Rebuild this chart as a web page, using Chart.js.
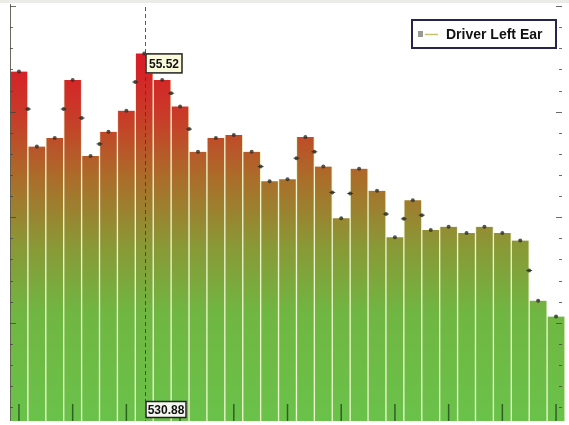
<!DOCTYPE html>
<html>
<head>
<meta charset="utf-8">
<script src="https://cdn.jsdelivr.net/npm/chart.js@4/dist/chart.umd.min.js"></script>
<style>
    html, body { margin: 0; padding: 0; background: #ffffff; }
    #wrap { width: 569px; height: 425px; }
</style>
</head>
<body>
<div id="wrap"><canvas id="earChart" width="569" height="425"></canvas></div>
<script>
// frequency bins (Hz) and level per bin
const categories = [
    "66.36", "132.72", "199.08", "265.44", "331.80", "398.16", "464.52", "530.88",
    "597.24", "663.60", "729.96", "796.32", "862.68", "929.04", "995.40", "1061.76",
    "1128.12", "1194.48", "1260.84", "1327.20", "1393.56", "1459.92", "1526.28", "1592.64",
    "1659.00", "1725.36", "1791.72", "1858.08", "1924.44", "1990.80", "2057.16"
];
const levels = [
    53.8, 46.7, 47.5, 53.0, 45.8, 48.1, 50.1, 55.52,
    53.0, 50.5, 46.2, 47.5, 47.8, 46.2, 43.4, 43.6,
    47.6, 44.8, 39.9, 44.6, 42.5, 38.1, 41.6, 38.8,
    39.1, 38.5, 39.1, 38.5, 37.8, 32.1, 30.6
];
const seriesName = "Driver Left Ear";
const cursorBin = "530.88";
const yRange = [20.7, 60.2];

let barGradient = null;
function getGradient(chart) {
    const area = chart.chartArea;
    if (!area) return "#c03030";
    if (!barGradient) {
        const g = chart.ctx.createLinearGradient(0, area.top, 0, area.bottom);
        g.addColorStop(0.0, "rgb(224,18,42)");
        g.addColorStop(0.16, "rgb(214,34,40)");
        g.addColorStop(0.27, "rgb(200,60,40)");
        g.addColorStop(0.42, "rgb(170,110,42)");
        g.addColorStop(0.58, "rgb(138,152,54)");
        g.addColorStop(0.74, "rgb(112,182,66)");
        g.addColorStop(1.0, "rgb(106,194,74)");
        barGradient = g;
    }
    return barGradient;
}

function drawMarker(ctx, x, y) {
    ctx.save();
    ctx.fillStyle = "rgba(45,45,35,0.8)";
    ctx.beginPath();
    ctx.arc(x, y, 2, 0, Math.PI * 2);
    ctx.fill();
    ctx.fillRect(x - 3, y - 0.5, 6, 1);
    ctx.restore();
}

function labelBox(ctx, text, x, y, w, h, fill) {
    ctx.save();
    ctx.fillStyle = fill;
    ctx.fillRect(x, y, w, h);
    ctx.strokeStyle = "#222";
    ctx.lineWidth = 1.5;
    ctx.strokeRect(x + 0.5, y + 0.5, w - 1, h - 1);
    ctx.fillStyle = "#111";
    ctx.font = "bold 12px 'Liberation Sans Narrow', 'Liberation Sans', sans-serif";
    ctx.textAlign = "center";
    ctx.textBaseline = "middle";
    ctx.fillText(text, x + w / 2, y + h / 2 + 1);
    ctx.restore();
}

const overlay = {
    id: "overlay",
    afterDatasetsDraw(chart) {
        const ctx = chart.ctx;
        const area = chart.chartArea;
        const yScale = chart.scales.y;
        const bars = chart.getDatasetMeta(0).data;

        // markers halfway up the steps between neighbouring bars
        for (let i = 0; i < levels.length - 1; i++) {
            if (Math.abs(levels[i] - levels[i + 1]) < 2.2) continue;
            const x = (bars[i].x + bars[i + 1].x) / 2;
            const y = (yScale.getPixelForValue(levels[i]) + yScale.getPixelForValue(levels[i + 1])) / 2;
            drawMarker(ctx, x, y);
        }

        // axis ticks on both sides, pointing inward
        ctx.save();
        ctx.strokeStyle = "rgba(70,70,60,0.8)";
        ctx.lineWidth = 1;
        ctx.beginPath();
        ctx.moveTo(area.left + 0.5, area.top);
        ctx.lineTo(area.left + 0.5, area.bottom);
        for (let v = 22; v <= 60; v += 2) {
            const y = Math.round(yScale.getPixelForValue(v)) + 0.5;
            const len = v % 10 === 0 ? 6 : 3;
            ctx.moveTo(area.left, y);
            ctx.lineTo(area.left + len, y);
            ctx.moveTo(area.right - 3, y);
            ctx.lineTo(area.right - 3 - len, y);
        }
        ctx.stroke();

        // bottom ticks every third bin
        ctx.strokeStyle = "rgba(40,85,30,0.9)";
        ctx.lineWidth = 1.5;
        ctx.beginPath();
        bars.forEach((bar, i) => {
            if (i % 3 !== 0) return;
            ctx.moveTo(bar.x, area.bottom - 17);
            ctx.lineTo(bar.x, area.bottom);
        });
        ctx.stroke();
        ctx.restore();

        // cursor line with readouts
        const ci = categories.indexOf(cursorBin);
        const cx = Math.round(bars[ci].x) + 1.5;
        ctx.save();
        ctx.strokeStyle = "rgba(60,60,60,0.85)";
        ctx.lineWidth = 1;
        ctx.setLineDash([4, 3]);
        ctx.beginPath();
        ctx.moveTo(cx, area.top + 3);
        ctx.lineTo(cx, area.bottom);
        ctx.stroke();
        ctx.restore();
        const cy = yScale.getPixelForValue(levels[ci]);
        labelBox(ctx, levels[ci].toFixed(2), cx, cy, 37, 20, "#fbfbdc");
        labelBox(ctx, cursorBin, cx, area.bottom - 20, 41, 17, "#f6f6f0");

        // legend
        const lx = 412, ly = 20, lw = 144, lh = 28;
        ctx.save();
        ctx.fillStyle = "#ffffff";
        ctx.fillRect(lx, ly, lw, lh);
        ctx.strokeStyle = "#24244e";
        ctx.lineWidth = 2;
        ctx.strokeRect(lx, ly, lw, lh);
        ctx.fillStyle = "#9a9a90";
        ctx.fillRect(lx + 6, ly + 11, 5, 6);
        ctx.strokeStyle = "#c8bf6a";
        ctx.lineWidth = 1.5;
        ctx.beginPath();
        ctx.moveTo(lx + 13, ly + 14.5);
        ctx.lineTo(lx + 26, ly + 14.5);
        ctx.stroke();
        ctx.fillStyle = "#111";
        ctx.font = "bold 14px 'Liberation Sans Narrow', 'Liberation Sans', sans-serif";
        ctx.textBaseline = "middle";
        ctx.fillText(seriesName, lx + 34, ly + lh / 2 + 1);
        ctx.restore();

        // grey strip along the top edge
        ctx.save();
        ctx.fillStyle = "#ebebe7";
        ctx.fillRect(0, 0, chart.width, 3);
        ctx.restore();
    }
};

new Chart(document.getElementById("earChart").getContext("2d"), {
    type: "bar",
    data: {
        labels: categories,
        datasets: [
            {
                label: seriesName,
                data: levels,
                backgroundColor: ctx => getGradient(ctx.chart),
                borderColor: "rgba(232,242,196,0.85)",
                borderWidth: { left: 1, right: 1, top: 0, bottom: 0 },
                barPercentage: 1,
                categoryPercentage: 1,
                order: 2
            },
            {
                type: "line",
                label: "points",
                data: levels,
                showLine: false,
                pointStyle: "circle",
                pointRadius: 2,
                pointBackgroundColor: "rgba(45,45,35,0.8)",
                pointBorderWidth: 0,
                order: 1
            }
        ]
    },
    options: {
        responsive: false,
        animation: false,
        devicePixelRatio: 1,
        layout: { padding: { left: 10, right: 0, top: 0, bottom: 0 } },
        scales: {
            x: { display: false, offset: true },
            y: { display: false, min: yRange[0], max: yRange[1] }
        },
        plugins: {
            legend: { display: false },
            tooltip: { enabled: false }
        }
    },
    plugins: [overlay]
});
</script>
</body>
</html>
